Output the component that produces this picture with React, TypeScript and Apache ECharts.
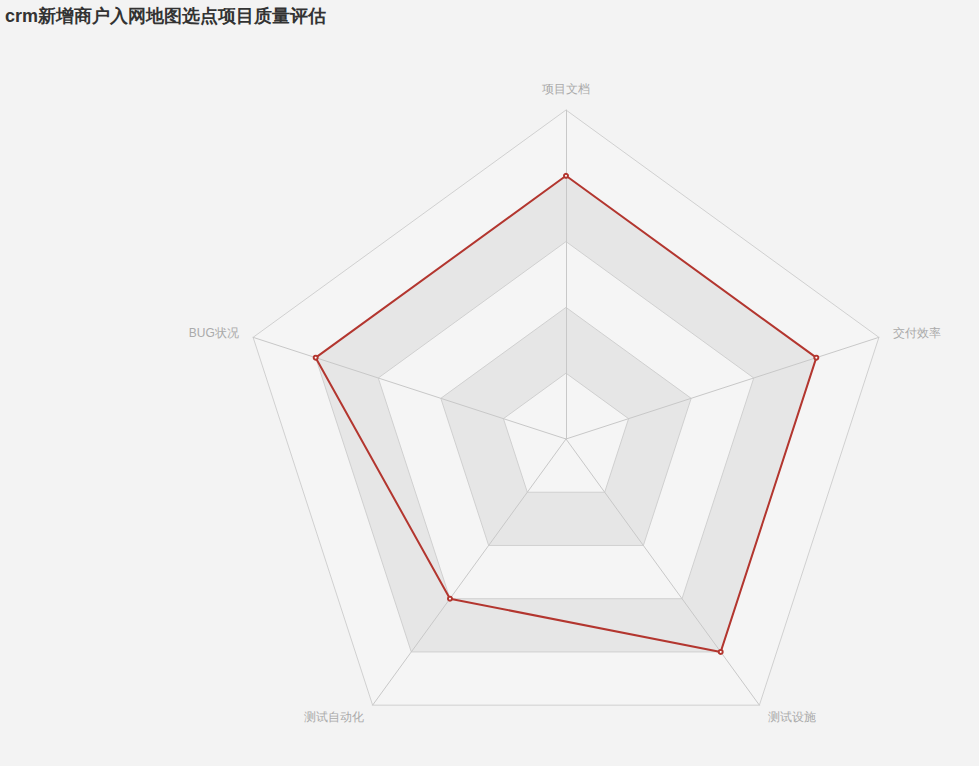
import React, { useEffect, useRef } from "react";
import * as echarts from "echarts";

const titleText = "crm新增商户入网地图选点项目质量评估";
const indicatorNames = ["项目文档", "BUG状况", "测试自动化", "测试设施", "交付效率"];
const indicatorMax = [100, 100, 100, 100, 100];
const seriesValues = [80, 80, 60, 80, 80];

export default function App() {
  const ref = useRef<HTMLDivElement>(null);
  useEffect(() => {
    const chart = echarts.init(ref.current!, undefined, { renderer: "svg" });
    chart.setOption({
      animation: false,
      backgroundColor: "#f3f3f3",
      title: {
        text: titleText,
        left: 0,
        top: 2,
        textStyle: { fontSize: 18, fontWeight: "bold", color: "#333" },
      },
      radar: {
        center: [566, 439],
        radius: 329,
        splitNumber: 5,
        indicator: indicatorNames.map((n, i) => ({ name: n, max: indicatorMax[i] })),
        axisName: { color: "#aaa", fontSize: 12 },
        axisLine: { lineStyle: { color: "#c8c8c8" } },
        splitLine: { lineStyle: { color: "#d0d0d0" } },
        splitArea: {
          areaStyle: { color: ["#f5f5f5", "#e6e6e6"] },
        },
      },
      series: [
        {
          type: "radar",
          symbol: "emptyCircle",
          symbolSize: 4,
          lineStyle: { color: "#b3362f", width: 2 },
          itemStyle: { color: "#b3362f" },
          data: [{ value: seriesValues, name: "质量评估" }],
        },
      ],
    });
    return () => chart.dispose();
  }, []);
  return (
    <div
      ref={ref}
      style={{ position: "absolute", left: 0, top: 0, width: 979, height: 766 }}
    />
  );
}
